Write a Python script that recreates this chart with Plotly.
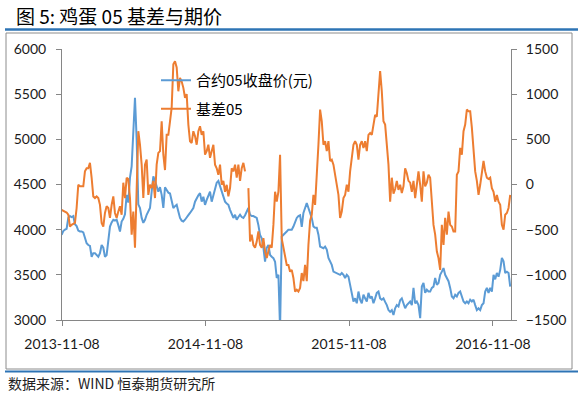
import pandas as pd
import plotly.graph_objects as go

# ---------------- data ----------------
start_date = "2013-11-07"
end_date = "2016-12-22"

price_05 = [
    3943, 3985, 4000, 4010, 4130, 4150, 4140, 4150, 4060, 4040,
    3990, 3980, 3980, 3970, 3910, 3850, 3830, 3820, 3700, 3740,
    3740, 3720, 3700, 3740, 3830, 3800, 3700, 3720, 3850, 4035,
    4080, 4110, 4100, 4110, 4050, 3980, 4090, 4120, 4170, 4385,
    4300, 4575, 4700, 5160, 5460, 5000, 4280, 4240, 4130, 4075,
    4110, 4165, 4200, 4240, 4420, 4590, 4540, 4470, 4420, 4470,
    4385, 4240, 4470, 4440, 4410, 4400, 4300, 4240, 4260, 4275,
    4200, 4130, 4100, 4090, 4110, 4130, 4160, 4185, 4210, 4240,
    4310, 4350, 4380, 4405, 4310, 4365, 4275, 4330, 4385, 4420,
    4310, 4385, 4460, 4520, 4540, 4480, 4420, 4385, 4310, 4290,
    4275, 4220, 4165, 4130, 4165, 4110, 4140, 4165, 4140, 4130,
    4160, 4200, 4240, 4165, 4150, 4150, 4140, 4130, 4050, 3940,
    3905, 3800, 3645, 3800, 3830, 3720, 3700, 3685, 3645, 3465,
    3500, 2900, 3925, 3940, 3960, 3980, 4000, 4000, 4000, 4035,
    4090, 4130, 4150, 4160, 4030, 4185, 4240, 4295, 4240, 4185,
    4130, 4035, 4020, 4020, 3945, 3813, 3800, 3795, 3813, 3780,
    3688, 3650, 3610, 3535, 3525, 3520, 3510, 3500, 3520, 3500,
    3465, 3500, 3480, 3390, 3315, 3205, 3240, 3185, 3315, 3225,
    3185, 3280, 3240, 3205, 3300, 3240, 3260, 3185, 3240, 3300,
    3315, 3240, 3225, 3240, 3200, 3165, 3110, 3090, 3110, 3055,
    3130, 3165, 3150, 3220, 3240, 3185, 3130, 3165, 3185, 3205,
    3165, 3355, 3185, 3205, 3165, 3020, 3370, 3410, 3300, 3335,
    3315, 3315, 3355, 3370, 3465, 3390, 3410, 3500, 3535, 3575,
    3500, 3465, 3430, 3355, 3260, 3240, 3280, 3260, 3300, 3315,
    3260, 3205, 3185, 3205, 3185, 3225, 3205, 3225, 3165, 3110,
    3130, 3110, 3165, 3185, 3315, 3355, 3300, 3355, 3315, 3500,
    3450, 3520, 3480, 3555, 3688, 3650, 3520, 3535, 3520, 3370,
]

basis_05 = [
    -280, -290, -300, -310, -335, -465, -447, -440, -425, -260,
    -3, -20, -20, -20, 145, 180, 180, 240, 75, -132,
    -150, -132, -150, -225, -425, -465, -315, -240, -260, -370,
    -225, -132, -315, -370, -300, -240, -335, 20, -150, 75,
    60, -150, -555, -300, -700, -150, 590, 440, 220, -150,
    220, 275, -115, -3, -40, 40, -150, 220, 350, 370,
    700, 330, 160, 550, 550, 700, 850, 1330, 1365, 1295,
    1032, 1180, 1140, 1070, 960, 1000, 663, 478, 460, 590,
    535, 440, 590, 645, 550, 590, 330, 370, 440, 295,
    370, 440, 220, 180, 107, 220, -3, 40, -80, -3,
    -132, -40, 180, 145, 220, 75, 220, 40, 180, 240,
    145, None, -40, -632, -555, -670, -700, -632, -520, -670,
    -700, -595, -740, -815, -740, -670, -700, -447, -80, -190,
    -80, 330, -600, -700, -815, -890, -890, -965, -945, -1035,
    -1185, -1165, -1185, -1145, -980, -1070, -890, -1070, -670, -400,
    -335, -115, -225, 75, 440, 830, 700, 440, 480, 370,
    480, 260, 275, 220, 107, -3, -115, -370, -300, -150,
    -115, -3, -80, 145, 295, 440, 480, 440, 275, 440,
    480, 405, 480, 370, 550, 570, 550, 663, 770, 750,
    1072, 1255, 1032, 700, 663, 440, 220, -190, 75, -100,
    -50, 40, -60, -3, -95, -20, 180, 125, 40, 20,
    -80, 40, -150, -3, 145, -3, -190, 145, -20, 20,
    107, 75, -260, -447, -555, -740, -815, -945, -447, -670,
    -370, -555, -300, -447, -465, -520, -520, 107, 145, 405,
    330, 590, 663, 830, 810, 810, 630, 370, 145, 40,
    -115, -3, 145, 260, 145, 75, 60, 75, -40, -80,
    -190, -115, -190, -225, -447, -500, -335, -315, -260, -115,
]

x_tick_dates = ["2013-11-08", "2014-11-08", "2015-11-08", "2016-11-08"]
left_ticks = [3000, 3500, 4000, 4500, 5000, 5500, 6000]
right_ticks = [-1500, -1000, -500, 0, 500, 1000, 1500]

title_text = "图 5: 鸡蛋 05 基差与期价"
source_text = "数据来源：WIND 恒泰期货研究所"
name_price = "合约05收盘价(元)"
name_basis = "基差05"

dates = pd.date_range(start_date, end_date, periods=len(price_05))

# ---------------- layout geometry ----------------
W, H = 578, 394
L, R, T, B = 62, 511, 49, 320
pw, ph = R - L, B - T


def px_x(x):
    return (x - L) / pw


def px_y(y):
    return (B - y) / ph


BLUE = "#5B9BD5"
ORANGE = "#ED7D31"
AXIS = "#868686"
TICKFONT = dict(family="Lato, Noto Sans CJK SC, sans-serif", size=14, color="#1a1a1a")
CJK = "Noto Sans CJK SC, sans-serif"

fig = go.Figure()
fig.add_trace(go.Scatter(
    x=dates, y=price_05, name=name_price, mode="lines",
    line=dict(color=BLUE, width=2), yaxis="y", legendgroup="a",
))
fig.add_trace(go.Scatter(
    x=dates, y=basis_05, name=name_basis, mode="lines",
    line=dict(color=ORANGE, width=2), yaxis="y2", legendgroup="b",
    connectgaps=False,
))

fig.update_layout(
    width=W, height=H,
    margin=dict(l=L, r=W - R, t=T, b=H - B, pad=0),
    paper_bgcolor="white", plot_bgcolor="white",
    showlegend=True,
    legend=dict(
        x=px_x(156), y=px_y(64), xanchor="left", yanchor="top",
        bgcolor="rgba(0,0,0,0)", borderwidth=0,
        font=dict(family=CJK, size=15, color="#000000"),
        tracegroupgap=6, traceorder="grouped",
    ),
    xaxis=dict(
        type="date",
        range=["2013-11-08", "2016-12-24"],
        tickvals=x_tick_dates, tickformat="%Y-%m-%d",
        showline=True, linecolor=AXIS, linewidth=1,
        ticks="outside", ticklen=5, tickcolor=AXIS,
        showgrid=False, zeroline=False, tickfont=TICKFONT,
        ticklabelstandoff=6,
    ),
    yaxis=dict(
        range=[3000, 6000], tickvals=left_ticks,
        showline=True, linecolor=AXIS, linewidth=1,
        ticks="outside", ticklen=5, tickcolor=AXIS,
        showgrid=False, zeroline=False, tickfont=TICKFONT,
        ticklabelstandoff=7,
    ),
    yaxis2=dict(
        range=[-1500, 1500], tickvals=right_ticks,
        overlaying="y", side="right",
        showline=True, linecolor=AXIS, linewidth=1,
        ticks="outside", ticklen=5, tickcolor=AXIS,
        showgrid=False, zeroline=False, tickfont=TICKFONT,
        ticklabelstandoff=6,
    ),
)

# outer chart frame and report decoration
fig.add_shape(type="rect", xref="paper", yref="paper",
              x0=px_x(6), x1=px_x(572), y0=px_y(369), y1=px_y(33),
              line=dict(color="#8c8c8c", width=1), layer="below")
fig.add_shape(type="line", xref="paper", yref="paper",
              x0=px_x(5), x1=px_x(578), y0=px_y(29.5), y1=px_y(29.5),
              line=dict(color="#2E74B5", width=2.5))
fig.add_shape(type="line", xref="paper", yref="paper",
              x0=px_x(5), x1=px_x(578), y0=px_y(371.5), y1=px_y(371.5),
              line=dict(color="#2E74B5", width=2))

fig.add_annotation(text=title_text, xref="paper", yref="paper",
                   x=px_x(14), y=px_y(15.5), xanchor="left", yanchor="middle",
                   showarrow=False, font=dict(family=CJK, size=19, color="#000000"))
fig.add_annotation(text=source_text, xref="paper", yref="paper",
                   x=px_x(6), y=px_y(383), xanchor="left", yanchor="middle",
                   showarrow=False, font=dict(family=CJK, size=14, color="#222222"))

fig.write_html(
    "out.html",
    config={"displayModeBar": False},
    post_script="document.body.style.margin='0';document.body.style.overflow='hidden';",
)
